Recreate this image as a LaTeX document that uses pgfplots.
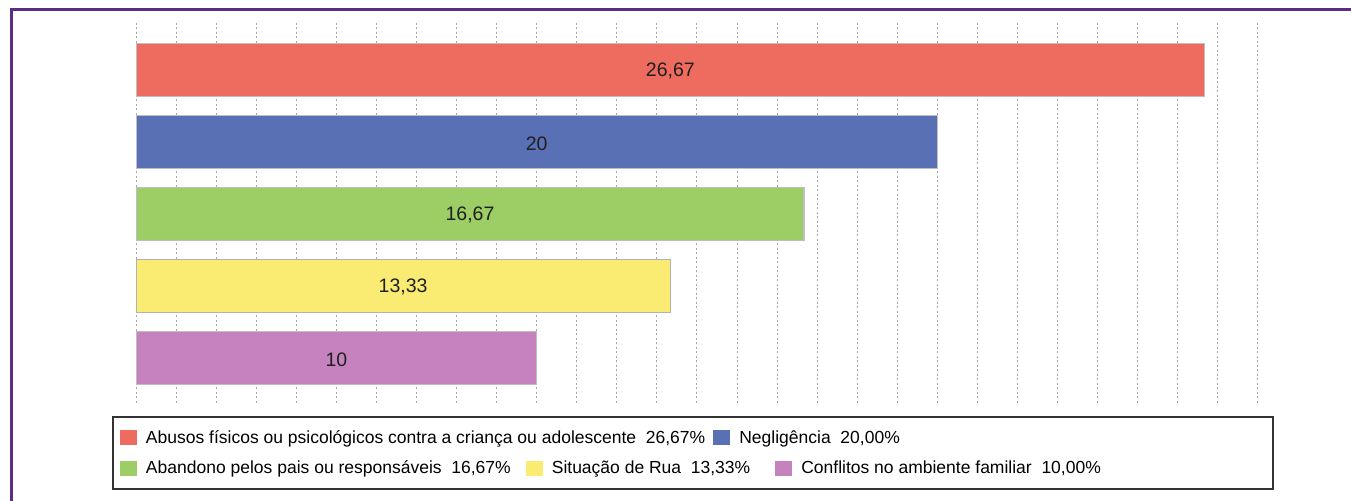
\documentclass[border=0pt]{standalone}
\usepackage{fontspec}
\setmainfont{Liberation Sans}
\usepackage{pgfplots}
\pgfplotsset{compat=1.18}
\definecolor{cred}{HTML}{EE6B5F}
\definecolor{cblue}{HTML}{5A70B5}
\definecolor{cgreen}{HTML}{9DCD65}
\definecolor{cyellow}{HTML}{FAEC72}
\definecolor{cpurple}{HTML}{C582BE}
\definecolor{framepurple}{HTML}{5A2D82}
\begin{document}
\begin{tikzpicture}
\useasboundingbox (0bp,0bp) rectangle (1351bp,501bp);
\fill[white] (0bp,0bp) rectangle (1351bp,501bp);
\draw[line width=3bp, framepurple] (11bp,-2bp) -- (11bp,491bp) -- (1353bp,491bp);
\begin{axis}[at={(136bp,98bp)}, anchor=south west, scale only axis,
 width=1122bp, height=380bp,
 xmin=0, xmax=28, ymin=-0.625, ymax=4.65,
 xtick={0,1,...,28}, xticklabels={}, ytick=\empty,
 xmajorgrids, grid style={black!35, line width=1bp, dash pattern=on 2bp off 2.5bp},
 axis line style={draw=none}, major tick length=0pt,
 xbar, bar width=53bp, bar shift=0pt,
 nodes near coords, point meta=explicit symbolic,
 visualization depends on={x \as \rawx},
 every node near coord/.append style={anchor=center, shift={(axis direction cs:-\rawx/2,0)}, yshift=-1.5bp, font=\fontsize{19.5bp}{22bp}\selectfont, text=black!88},
 legend image code/.code={\fill[#1,draw=none] (0bp,-7.5bp) rectangle (17bp,7.5bp);},
 legend columns=-1,
 legend style={at={(rel axis cs:-0.01426,-0.0921)}, anchor=west, draw=none, fill=none, inner sep=0pt, outer sep=0pt,
   font=\fontsize{17.5bp}{20bp}\selectfont, nodes={inner sep=0pt},
   /tikz/every odd column/.append style={column sep=9bp},
   /tikz/every even column/.append style={column sep=8bp}},
 table/row sep=\\,
]
\addplot[fill=cred, draw=black!25, line width=1.2bp] table[meta index=2] {x y l\\ 26.67 4 26,67\\};
\addlegendentry{Abusos físicos ou psicológicos contra a criança ou adolescente~~26,67\%}
\addplot[fill=cblue, draw=black!25, line width=1.2bp] table[meta index=2] {x y l\\ 20 3 20\\};
\addlegendentry{Negligência~~20,00\%}
\addplot[fill=cgreen, draw=black!25, line width=1.2bp] table[meta index=2] {x y l\\ 16.67 2 16,67\\};
\addplot[fill=cyellow, draw=black!30, line width=1.2bp] table[meta index=2] {x y l\\ 13.33 1 13,33\\};
\addplot[fill=cpurple, draw=black!25, line width=1.2bp] table[meta index=2] {x y l\\ 10 0 10\\};
\end{axis}
\begin{axis}[at={(136bp,98bp)}, anchor=south west, scale only axis,
 width=1122bp, height=380bp, hide axis,
 xmin=0, xmax=1, ymin=0, ymax=1,
 legend image code/.code={\fill[#1,draw=none] (0bp,-7.5bp) rectangle (17bp,7.5bp);},
 legend columns=-1,
 legend style={at={(rel axis cs:-0.01426,-0.1711)}, anchor=west, draw=none, fill=none, inner sep=0pt, outer sep=0pt,
   font=\fontsize{17.5bp}{20bp}\selectfont, nodes={inner sep=0pt},
   /tikz/every odd column/.append style={column sep=9bp},
   /tikz/every even column/.append style={column sep=15bp}},
]
\addlegendimage{fill=cgreen}
\addlegendentry{Abandono pelos pais ou responsáveis~~16,67\%}
\addlegendimage{fill=cyellow}
\addlegendentry{Situação de Rua~~13,33\%\kern10bp\null}
\addlegendimage{fill=cpurple}
\addlegendentry{Conflitos no ambiente familiar~~10,00\%}
\end{axis}
\draw[line width=2bp, black!80] (113bp,12bp) rectangle (1273bp,84bp);
\end{tikzpicture}
\end{document}
